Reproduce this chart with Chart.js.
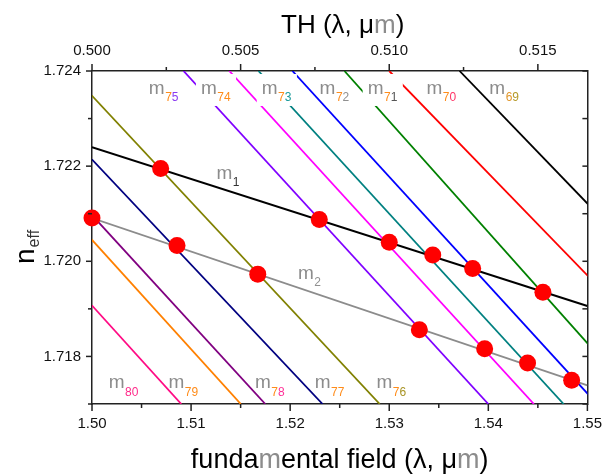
<!DOCTYPE html>
<html>
<head>
<meta charset="utf-8">
<script src="https://cdn.jsdelivr.net/npm/chart.js@4.4.1/dist/chart.umd.min.js"></script>
<style>
html,body{margin:0;padding:0;background:#fff;}
#wrap{width:613px;height:474px;position:relative;}
</style>
</head>
<body>
<div id="wrap"><canvas id="c" width="613" height="474"></canvas></div>
<script>
// ---------------- data ----------------
const nTop = 1.724, nBottom = 1.717;                 // n_eff axis range
const lambdaMin = 1.50, lambdaMax = 1.55;             // fundamental λ range (µm)

const xTickValues = [1.50, 1.51, 1.52, 1.53, 1.54, 1.55];
const xMinorValues = [1.505, 1.515, 1.525, 1.535, 1.545];
const topTickValues = [0.500, 0.505, 0.510, 0.515];
const topMinorValues = [0.5025, 0.5075, 0.5125];
const yTickValues = [1.718, 1.720, 1.722, 1.724];
const yMinorValues = [1.717, 1.719, 1.721, 1.723];

// TH modes m80 ... m69 : wavelength where each dispersion line meets n_eff = 1.724 and n_eff = 1.717
const modeNames = ['m80','m79','m78','m77','m76','m75','m74','m73','m72','m71','m70','m69'];
const modeLambdaAtTop    = [1.47854, 1.48454, 1.48665, 1.49158, 1.49767, 1.50924, 1.51386, 1.51680, 1.52023, 1.52548, 1.53000, 1.53710];
const modeLambdaAtBottom = [1.50901, 1.51502, 1.51749, 1.52327, 1.52904, 1.54000, 1.54460, 1.54760, 1.55097, 1.55548, 1.56259, 1.56951];

// fundamental modes m1, m2
const m1Lambda = [1.50, 1.55];
const m1Neff   = [1.72240, 1.71906];
const m2Lambda = [1.50, 1.55];
const m2Neff   = [1.72091, 1.71739];

// phase-matching points
const matchM1Lambda = [1.50693, 1.52294, 1.53000, 1.53439, 1.53842, 1.54551];
const matchM1Neff   = [1.72195, 1.72088, 1.72040, 1.72013, 1.71985, 1.71935];
const matchM2Lambda = [1.50000, 1.50858, 1.51673, 1.53304, 1.53963, 1.54396, 1.54841];
const matchM2Neff   = [1.72091, 1.72033, 1.71973, 1.71856, 1.71816, 1.71786, 1.71750];

// mode labels: subscript text and anchor (data coordinates)
const labelSubs   = ['75','74','73','72','71','70','69','80','79','78','77','76','1','2'];
const labelLambda = [1.50574,1.51099,1.51713,1.52297,1.52782,1.53376,1.54010,1.50168,1.50772,1.51644,1.52248,1.52871,1.51257,1.52079];
const labelNeff   = [1.723517,1.723517,1.723517,1.723517,1.723517,1.723517,1.723517,1.717326,1.717326,1.717326,1.717326,1.717326,1.72173,1.71963];

// ---------------- styles ----------------
const FONT = '"Liberation Sans", Arial, Helvetica, sans-serif';
const modeColors = ['#FF0A84','#FF8000','#800080','#000080','#808000','#8000FF','#FF00FF','#008080','#0000FF','#008000','#FF0000','#000000'];
const OR = '#FF8C1A';
const labelColors = [
  [OR,'#8B3BF0'],[OR,OR],[OR,'#1A9A9A'],[OR,'#909090'],[OR,'#555555'],[OR,'#FF3366'],['#E0962A','#B49A2A'],
  ['#FF2A8A','#FF2A8A'],[OR,OR],[OR,'#FF3399'],[OR,OR],[OR,'#A89424'],
  ['#333333'],['#909090']
];
const labelBox = [false,true,true,false,true,false,false,false,false,false,false,false,false,false];

// ---------------- datasets ----------------
const datasets = [];
datasets.push({
  label:'match m1', data: matchM1Lambda.map((x,i)=>({x, y:matchM1Neff[i]})),
  showLine:false, pointRadius:8.5, pointHoverRadius:8.5, pointBackgroundColor:'#FF0000', pointBorderWidth:0,
  order:0, clip:false
});
datasets.push({
  label:'match m2', data: matchM2Lambda.map((x,i)=>({x, y:matchM2Neff[i]})),
  showLine:false, pointRadius:8.5, pointHoverRadius:8.5, pointBackgroundColor:'#FF0000', pointBorderWidth:0,
  order:0, clip:false
});
datasets.push({
  label:'m1', data: m1Lambda.map((x,i)=>({x, y:m1Neff[i]})),
  showLine:true, borderColor:'#000', borderWidth:2, pointRadius:0, order:1
});
datasets.push({
  label:'m2', data: m2Lambda.map((x,i)=>({x, y:m2Neff[i]})),
  showLine:true, borderColor:'#8C8C8C', borderWidth:1.8, pointRadius:0, order:1
});
modeNames.forEach((name,i)=>{
  datasets.push({
    label:name,
    data:[{x:modeLambdaAtTop[i], y:nTop},{x:modeLambdaAtBottom[i], y:nBottom}],
    showLine:true, borderColor:modeColors[i], borderWidth:1.8, pointRadius:0, order:2
  });
});

// ---------------- decoration plugin ----------------
function seg(ctx, parts, cx, y, font){
  ctx.font = font;
  let total = 0;
  parts.forEach(p=>{ total += ctx.measureText(p[0]).width; });
  let x = cx - total/2;
  ctx.textAlign = 'left';
  ctx.textBaseline = 'alphabetic';
  parts.forEach(p=>{ ctx.fillStyle = p[1]; ctx.fillText(p[0], x, y); x += ctx.measureText(p[0]).width; });
}
function line(ctx,x1,y1,x2,y2){ ctx.beginPath(); ctx.moveTo(x1,y1); ctx.lineTo(x2,y2); ctx.stroke(); }

const decor = {
  id:'decor',
  afterDatasetsDraw(chart){
    const ctx = chart.ctx, sx = chart.scales.x, sy = chart.scales.y;
    ctx.save();
    labelSubs.forEach((sub,i)=>{
      const px = sx.getPixelForValue(labelLambda[i]);
      const py = sy.getPixelForValue(labelNeff[i]);
      ctx.font = `19px ${FONT}`;
      const mw = ctx.measureText('m').width;
      ctx.font = `12px ${FONT}`;
      const sw = ctx.measureText(sub).width;
      if (labelBox[i]) {
        ctx.fillStyle = '#fff';
        ctx.fillRect(px-5, py-20, mw+sw+11, 32);
      }
      ctx.textAlign='left'; ctx.textBaseline='alphabetic';
      ctx.font = `19px ${FONT}`; ctx.fillStyle = '#8C8C8C';
      ctx.fillText('m', px, py);
      ctx.font = `12px ${FONT}`;
      let x = px + mw + 0.5;
      const cols = labelColors[i];
      for (let k=0;k<sub.length;k++){
        ctx.fillStyle = cols[Math.min(k, cols.length-1)];
        ctx.fillText(sub[k], x, py+7.5);
        x += ctx.measureText(sub[k]).width;
      }
    });
    ctx.restore();
  },
  afterDraw(chart){
    const ctx = chart.ctx;
    const {left,right,top,bottom} = chart.chartArea;
    const sx = chart.scales.x, sx2 = chart.scales.x2, sy = chart.scales.y;
    ctx.save();
    ctx.strokeStyle = '#222'; ctx.lineWidth = 1.5;
    xTickValues.forEach(v=>{ const p = sx.getPixelForValue(v); line(ctx,p,bottom,p,bottom+7); });
    xMinorValues.forEach(v=>{ const p = sx.getPixelForValue(v); line(ctx,p,bottom,p,bottom+4); });
    topTickValues.forEach(v=>{ const p = sx2.getPixelForValue(v); line(ctx,p,top,p,top-7); });
    topMinorValues.forEach(v=>{ const p = sx2.getPixelForValue(v); line(ctx,p,top,p,top-4); });
    yTickValues.forEach(v=>{ const p = sy.getPixelForValue(v); line(ctx,left-6,p,left,p); line(ctx,right,p,right-5,p); });
    yMinorValues.forEach(v=>{ const p = sy.getPixelForValue(v); line(ctx,left-4,p,left,p); line(ctx,right,p,right-5,p); });
    // titles
    seg(ctx, [['TH (λ, μ','#000'],['m','#8C8C8C'],[')','#000']], (left+right)/2 + 3, 33, `26px ${FONT}`);
    seg(ctx, [['funda','#000'],['m','#8C8C8C'],['ental field (λ, μ','#000'],['m','#8C8C8C'],[')','#000']], (left+right)/2, 468, `27px ${FONT}`);
    // y title
    ctx.translate(34, 264);
    ctx.rotate(-Math.PI/2);
    ctx.textAlign='left'; ctx.textBaseline='alphabetic';
    ctx.font = `28px ${FONT}`; ctx.fillStyle = '#000';
    ctx.fillText('n', 0, 0);
    const nw = ctx.measureText('n').width;
    ctx.font = `16px ${FONT}`; ctx.fillStyle = '#333';
    ctx.fillText('eff', nw + 1, 5);
    ctx.restore();
  }
};

// ---------------- chart ----------------
const axisBorder = { display:true, color:'#222', width:1.5 };
const noGrid = { display:false, drawTicks:false };
const tickFont = { family: FONT, size: 15 };

new Chart(document.getElementById('c'), {
  type:'scatter',
  data:{ datasets },
  options:{
    responsive:false, devicePixelRatio:1, animation:false,
    layout:{ padding:0 },
    plugins:{ legend:{display:false}, tooltip:{enabled:false}, title:{display:false} },
    elements:{ line:{ tension:0 } },
    scales:{
      x:{
        type:'linear', position:'bottom', min:lambdaMin, max:lambdaMax,
        afterBuildTicks: s => { s.ticks = xTickValues.map(v=>({value:v})); },
        ticks:{ callback: v => Number(v).toFixed(2), font:tickFont, color:'#111', padding:11, maxRotation:0, autoSkip:false },
        grid:noGrid, border:axisBorder,
        afterFit: s => { s.height = 70; }
      },
      x2:{
        type:'linear', position:'top', min:lambdaMin/3, max:lambdaMax/3,
        afterBuildTicks: s => { s.ticks = topTickValues.map(v=>({value:v})); },
        ticks:{ callback: v => Number(v).toFixed(3), font:tickFont, color:'#111', padding:11, maxRotation:0, autoSkip:false },
        grid:noGrid, border:axisBorder,
        afterFit: s => { s.height = 71; }
      },
      y:{
        type:'linear', position:'left', min:nBottom, max:nTop,
        afterBuildTicks: s => { s.ticks = yTickValues.map(v=>({value:v})); },
        ticks:{ callback: v => Number(v).toFixed(3), font:tickFont, color:'#111', padding:11, autoSkip:false },
        grid:noGrid, border:axisBorder,
        afterFit: s => { s.width = 92; }
      },
      y2:{
        type:'linear', position:'right', min:nBottom, max:nTop,
        ticks:{ display:false },
        grid:noGrid, border:axisBorder,
        afterFit: s => { s.width = 16; }
      }
    }
  },
  plugins:[decor]
});
</script>
</body>
</html>
